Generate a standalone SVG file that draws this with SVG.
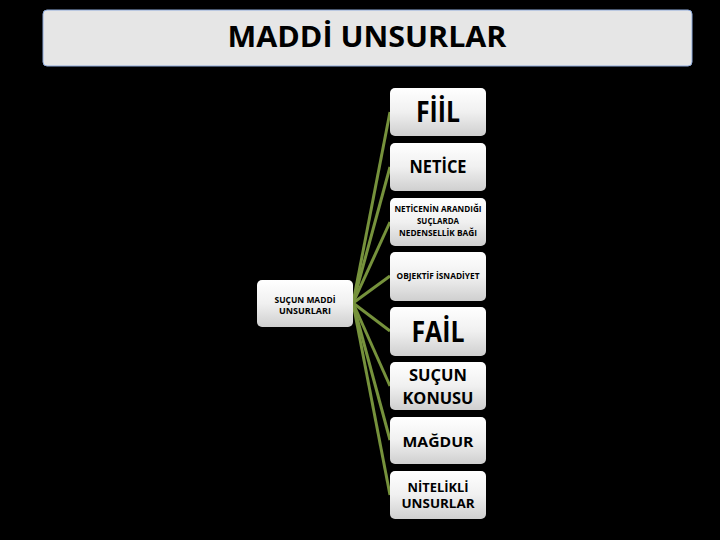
<svg xmlns="http://www.w3.org/2000/svg" width="720" height="540" viewBox="0 0 720 540">
<defs>
<linearGradient id="g" x1="0" y1="0" x2="0" y2="1">
<stop offset="0" stop-color="#ffffff"/>
<stop offset="0.5" stop-color="#f0f0f0"/>
<stop offset="1" stop-color="#cfcfcf"/>
</linearGradient>
</defs>
<style>
.box{fill:url(#g);stroke:none}
.t{font-family:"Open Sans","Liberation Sans",sans-serif;font-weight:bold;fill:#000;text-anchor:middle}
.c{stroke:#76923c;stroke-width:3;fill:none}
</style>
<rect width="720" height="540" fill="#000"/>
<g id="title">
<rect x="43" y="10" width="649" height="56" rx="4" fill="#e6e6e6" stroke="#8eaadb" stroke-width="1"/>
<text class="t" x="367" y="47" font-size="29" textLength="279" lengthAdjust="spacingAndGlyphs">MADDİ UNSURLAR</text>
</g>
<g id="connectors">
<line class="c" x1="353" y1="303" x2="390" y2="112"/>
<line class="c" x1="353" y1="303" x2="390" y2="167"/>
<line class="c" x1="353" y1="303" x2="390" y2="222"/>
<line class="c" x1="353" y1="303" x2="390" y2="276"/>
<line class="c" x1="353" y1="303" x2="390" y2="331"/>
<line class="c" x1="353" y1="303" x2="390" y2="386"/>
<line class="c" x1="353" y1="303" x2="390" y2="440"/>
<line class="c" x1="353" y1="303" x2="390" y2="495"/>
</g>
<g id="root">
<rect class="box" x="257" y="280" width="96" height="47" rx="5"/>
<text class="t" x="305" y="303" font-size="8" textLength="61" lengthAdjust="spacingAndGlyphs">SUÇUN MADDİ</text>
<text class="t" x="305" y="314" font-size="8" textLength="52" lengthAdjust="spacingAndGlyphs">UNSURLARI</text>
</g>
<g id="fiil">
<rect class="box" x="390" y="88" width="96" height="48" rx="5"/>
<text class="t" x="438" y="122" font-size="28" textLength="44" lengthAdjust="spacingAndGlyphs">FİİL</text>
</g>
<g id="netice">
<rect class="box" x="390" y="143" width="96" height="48" rx="5"/>
<text class="t" x="438" y="173" font-size="17" textLength="57" lengthAdjust="spacingAndGlyphs">NETİCE</text>
</g>
<g id="nedensellik">
<rect class="box" x="390" y="198" width="96" height="48" rx="5"/>
<text class="t" x="438" y="212" font-size="8" textLength="87" lengthAdjust="spacingAndGlyphs">NETİCENİN ARANDIĞI</text>
<text class="t" x="438" y="224" font-size="8" textLength="42" lengthAdjust="spacingAndGlyphs">SUÇLARDA</text>
<text class="t" x="438" y="236" font-size="8" textLength="78" lengthAdjust="spacingAndGlyphs">NEDENSELLİK BAĞI</text>
</g>
<g id="objektif">
<rect class="box" x="390" y="252" width="96" height="49" rx="5"/>
<text class="t" x="438" y="279" font-size="8.5" textLength="83" lengthAdjust="spacingAndGlyphs">OBJEKTİF İSNADİYET</text>
</g>
<g id="fail">
<rect class="box" x="390" y="307" width="96" height="49" rx="5"/>
<text class="t" x="438" y="342" font-size="28" textLength="53" lengthAdjust="spacingAndGlyphs">FAİL</text>
</g>
<g id="konusu">
<rect class="box" x="390" y="362" width="96" height="48" rx="5"/>
<text class="t" x="438" y="381" font-size="16" textLength="58" lengthAdjust="spacingAndGlyphs">SUÇUN</text>
<text class="t" x="438" y="404" font-size="16" textLength="71" lengthAdjust="spacingAndGlyphs">KONUSU</text>
</g>
<g id="magdur">
<rect class="box" x="390" y="417" width="96" height="47" rx="5"/>
<text class="t" x="438" y="447" font-size="15" textLength="71" lengthAdjust="spacingAndGlyphs">MAĞDUR</text>
</g>
<g id="nitelikli">
<rect class="box" x="390" y="471" width="96" height="48" rx="5"/>
<text class="t" x="438" y="492" font-size="11.5" textLength="61" lengthAdjust="spacingAndGlyphs">NİTELİKLİ</text>
<text class="t" x="438" y="508" font-size="11.5" textLength="73" lengthAdjust="spacingAndGlyphs">UNSURLAR</text>
</g>
</svg>
